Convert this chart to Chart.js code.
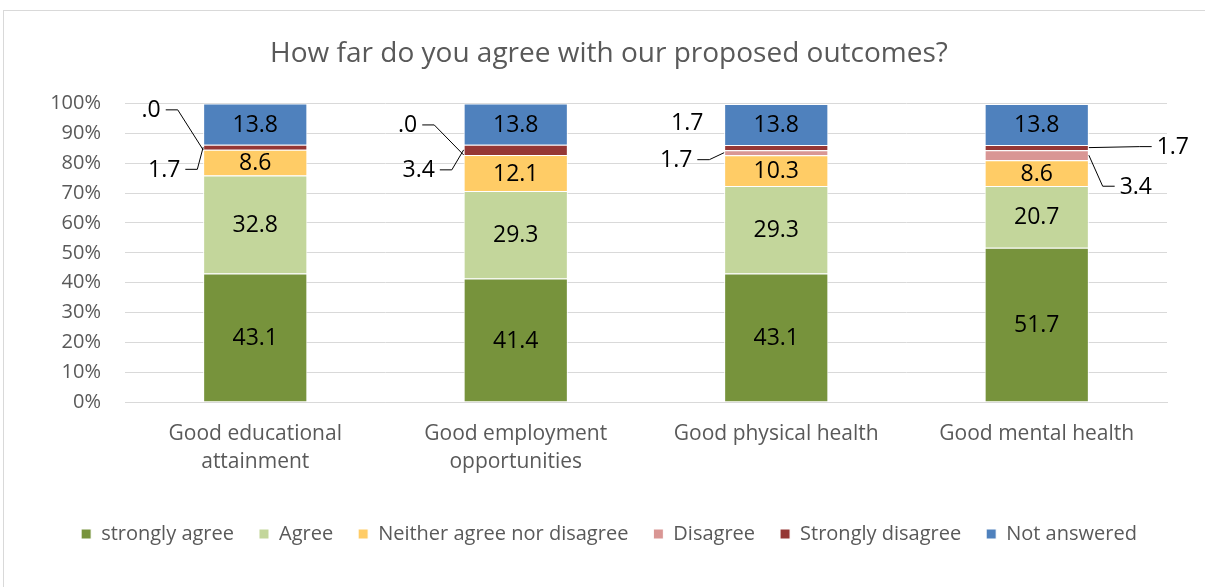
<!DOCTYPE html>
<html>
<head>
<meta charset="utf-8">
<script src="https://cdn.jsdelivr.net/npm/chart.js@4/dist/chart.umd.min.js"></script>
<style>
  body { margin: 0; background: #fff; }
  #frame { position: absolute; left: 3px; top: 10px; width: 1210px; height: 590px; border: 1px solid #d9d9d9; box-sizing: border-box; }
  #wrap { position: absolute; left: 0; top: 0; width: 1205px; height: 587px; }
</style>
</head>
<body>
<div id="frame"></div>
<div id="wrap"><canvas id="grafica" width="1205" height="587"></canvas></div>
<script>
const categorias = [["Good educational", "attainment"], ["Good employment", "opportunities"], "Good physical health", "Good mental health"];
const muyDeAcuerdo = [43.1, 41.4, 43.1, 51.7];
const deAcuerdo = [32.8, 29.3, 29.3, 20.7];
const neutral = [8.6, 12.1, 10.3, 8.6];
const desacuerdo = [0, 0, 1.7, 3.4];
const muyDesacuerdo = [1.7, 3.4, 1.7, 1.7];
const sinRespuesta = [13.8, 13.8, 13.8, 13.8];
const ticksY = [0, 10, 20, 30, 40, 50, 60, 70, 80, 90, 100];

const fuente = "'Open Sans', Lato, sans-serif";
const gris = '#595959';

// etiquetas pequeñas fuera de la barra: dataset, categoria, desplazamiento desde el borde
const llamadas = [
  { ds: 3, cat: 0, dx: -52, dy: -40, linea: true },
  { ds: 4, cat: 0, dx: -39, dy: 22, linea: true },
  { ds: 3, cat: 1, dx: -56, dy: -30, linea: true },
  { ds: 4, cat: 1, dx: -45, dy: 20, linea: true },
  { ds: 3, cat: 2, dx: -48, dy: 7, linea: true },
  { ds: 4, cat: 2, dx: -37, dy: -25, linea: false },
  { ds: 3, cat: 3, dx: 47, dy: 31, linea: true },
  { ds: 4, cat: 3, dx: 84, dy: -1, linea: true }
];

const formato = v => v === 0 ? '.0' : v.toFixed(1);

const etiquetasBarras = {
  id: 'etiquetasBarras',
  afterDatasetsDraw(chart) {
    const ctx = chart.ctx;
    ctx.save();
    ctx.font = '23px ' + fuente;
    ctx.fillStyle = '#000';
    ctx.textAlign = 'center';
    ctx.textBaseline = 'middle';
    chart.data.datasets.forEach((ds, i) => {
      chart.getDatasetMeta(i).data.forEach((bar, j) => {
        const v = ds.data[j];
        if (v >= 5) ctx.fillText(formato(v), bar.x, (bar.y + bar.base) / 2 + 1);
      });
    });
    ctx.strokeStyle = '#000';
    ctx.lineWidth = 1;
    llamadas.forEach(l => {
      const bar = chart.getDatasetMeta(l.ds).data[l.cat];
      const v = chart.data.datasets[l.ds].data[l.cat];
      const lado = l.dx < 0 ? -1 : 1;
      const ax = bar.x + lado * bar.width / 2;
      const ay = (bar.y + bar.base) / 2;
      const tx = ax + l.dx, ty = ay + l.dy;
      const texto = formato(v);
      const w = ctx.measureText(texto).width;
      ctx.fillText(texto, tx, ty + 1);
      if (l.linea) {
        const x1 = tx - lado * (w / 2 + 5);
        const x2 = x1 - lado * 12;
        ctx.beginPath();
        ctx.moveTo(x1, ty);
        ctx.lineTo(x2, ty);
        ctx.lineTo(ax, ay);
        ctx.stroke();
      }
    });
    ctx.restore();
  }
};

const serie = (label, data, color) => ({
  label, data, backgroundColor: color, borderColor: '#fff', borderWidth: 1,
  barPercentage: 0.8, categoryPercentage: 0.5
});

new Chart(document.getElementById('grafica'), {
  type: 'bar',
  data: {
    labels: categorias,
    datasets: [
      serie('strongly agree', muyDeAcuerdo, '#77933C'),
      serie('Agree', deAcuerdo, '#C3D69B'),
      serie('Neither agree nor disagree', neutral, '#FFCC66'),
      serie('Disagree', desacuerdo, '#D99694'),
      serie('Strongly disagree', muyDesacuerdo, '#953735'),
      serie('Not answered', sinRespuesta, '#4F81BD')
    ]
  },
  options: {
    responsive: false,
    animation: false,
    layout: { padding: { left: 51, right: 38, top: 0, bottom: 33 } },
    scales: {
      x: {
        stacked: true,
        grid: { display: false },
        border: { color: '#d9d9d9' },
        afterFit: s => { s.height = 97; },
        ticks: { color: gris, font: { family: fuente, size: 21, lineHeight: 1.33 }, padding: 10, maxRotation: 0 }
      },
      y: {
        stacked: true,
        min: 0, max: 100,
        afterBuildTicks: s => { s.ticks = ticksY.map(v => ({ value: v })); },
        afterFit: s => { s.width = 74; },
        grid: { color: '#d9d9d9', drawTicks: false },
        border: { display: false },
        ticks: { color: gris, font: { family: fuente, size: 20 }, padding: 24, callback: v => v + '%' }
      }
    },
    plugins: {
      title: {
        display: true,
        text: 'How far do you agree with our proposed outcomes?',
        color: gris,
        font: { family: fuente, size: 28, weight: 'normal' },
        padding: { top: 37, bottom: 33 }
      },
      legend: {
        position: 'bottom',
        labels: { color: gris, font: { family: fuente, size: 20 }, boxWidth: 10, boxHeight: 10, padding: 25 }
      },
      tooltip: { enabled: false }
    }
  },
  plugins: [etiquetasBarras]
});
</script>
</body>
</html>
